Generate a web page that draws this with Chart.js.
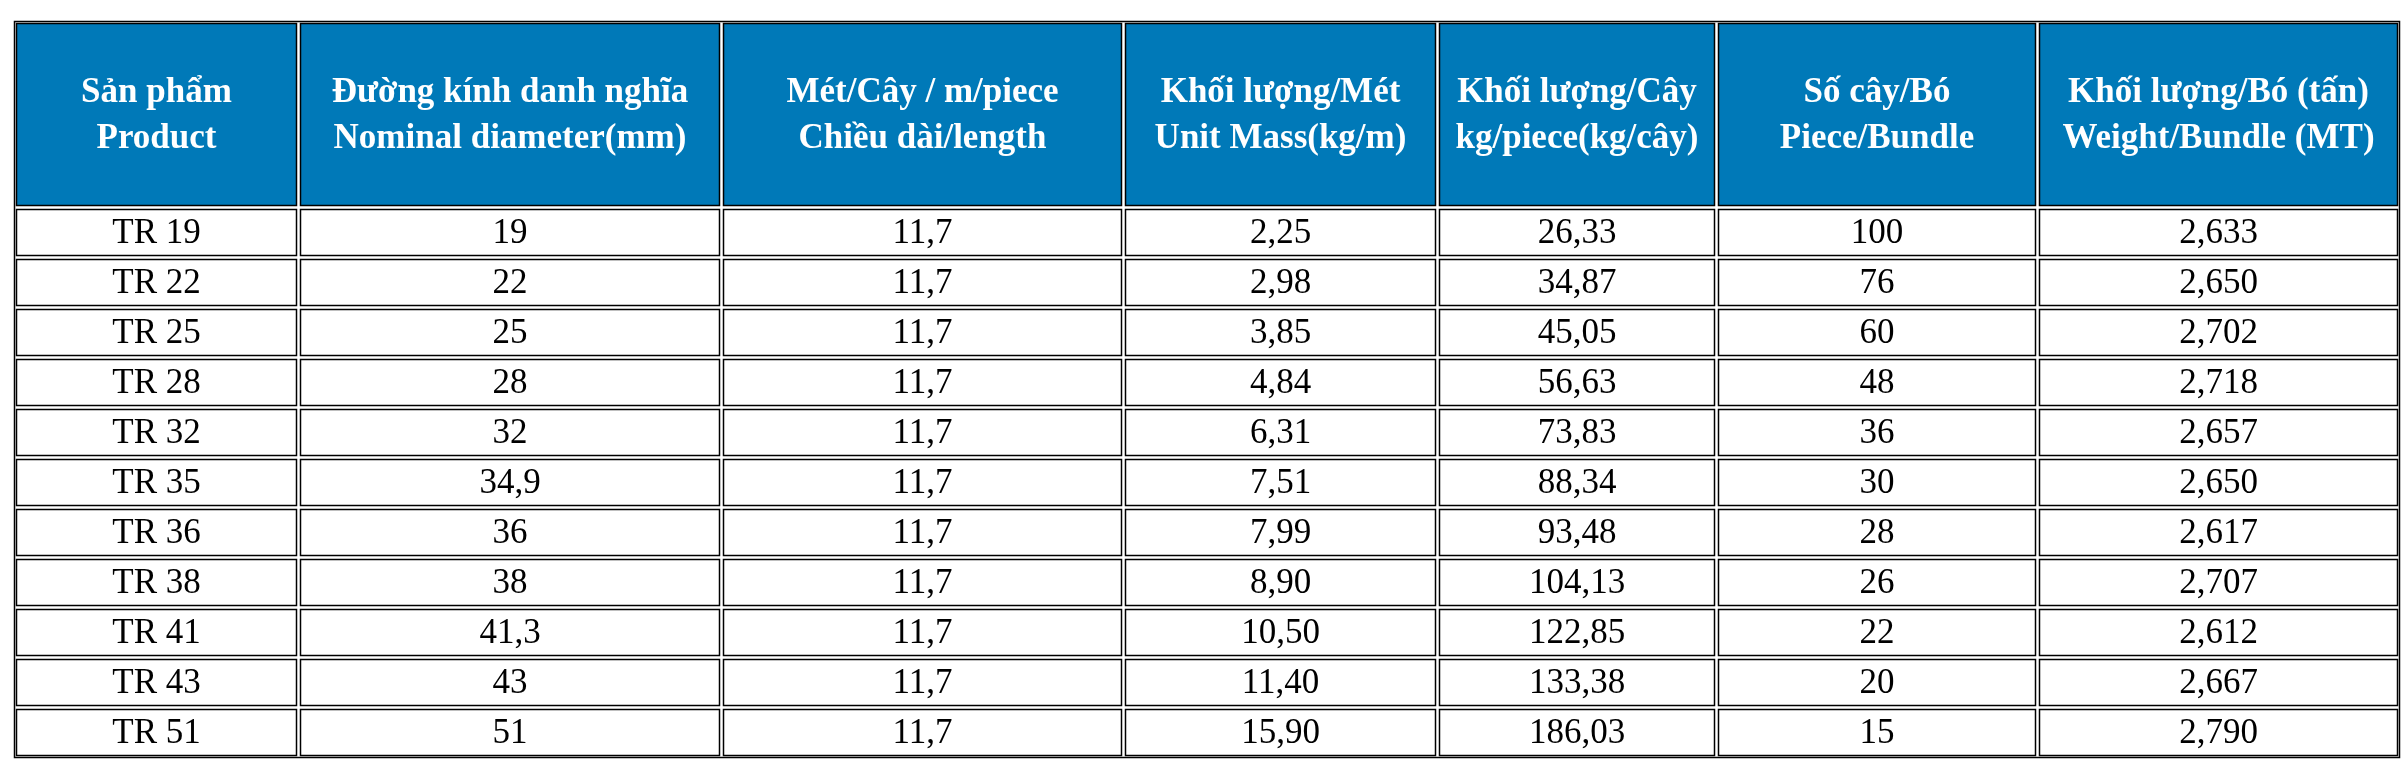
<!DOCTYPE html>
<html><head><meta charset="utf-8">
<script src="https://cdn.jsdelivr.net/npm/chart.js@4"></script>
<style>html,body{margin:0;padding:0;background:#fff}#w{width:2405px;height:762px}</style>
</head><body><div id="w"><canvas id="c"></canvas></div>
<script>
const headers = [
 ["Sản phẩm","Product"],
 ["Đường kính danh nghĩa","Nominal diameter(mm)"],
 ["Mét/Cây / m/piece","Chiều dài/length"],
 ["Khối lượng/Mét","Unit Mass(kg/m)"],
 ["Khối lượng/Cây","kg/piece(kg/cây)"],
 ["Số cây/Bó","Piece/Bundle"],
 ["Khối lượng/Bó (tấn)","Weight/Bundle (MT)"]
];
const products = ["TR 19","TR 22","TR 25","TR 28","TR 32","TR 35","TR 36","TR 38","TR 41","TR 43","TR 51"];
const diameters = ["19","22","25","28","32","34,9","36","38","41,3","43","51"];
const lengths = ["11,7","11,7","11,7","11,7","11,7","11,7","11,7","11,7","11,7","11,7","11,7"];
const unitMass = ["2,25","2,98","3,85","4,84","6,31","7,51","7,99","8,90","10,50","11,40","15,90"];
const pieceMass = ["26,33","34,87","45,05","56,63","73,83","88,34","93,48","104,13","122,85","133,38","186,03"];
const piecesPerBundle = ["100","76","60","48","36","30","28","26","22","20","15"];
const bundleWeight = ["2,633","2,650","2,702","2,718","2,657","2,650","2,617","2,707","2,612","2,667","2,790"];
const columns = [products, diameters, lengths, unitMass, pieceMass, piecesPerBundle, bundleWeight];

const colEdges = [14,298,721,1123,1437,1716,2037,2399];
const headerTop = 21, headerBottom = 207, rowH = 50;

const tablePlugin = {
  id:'table',
  afterDraw(chart){
    const ctx = chart.ctx, xs = chart.scales.x, ys = chart.scales.y;
    const X = v=>xs.getPixelForValue(v), Y = v=>ys.getPixelForValue(v);
    const nRows = products.length;
    const bottom = headerBottom + nRows*rowH;
    ctx.save();
    ctx.strokeStyle='#000'; ctx.lineWidth=1.5;
    ctx.strokeRect(X(colEdges[0])+0.5, Y(headerTop)+0.5, X(colEdges[7])-X(colEdges[0]), Y(bottom)-Y(headerTop));
    const drawText=(txt,cx,cy,bold,color)=>{
      ctx.font=(bold?'bold ':'')+'35px "Liberation Serif", "Times New Roman", serif';
      ctx.fillStyle=color; ctx.textAlign='center'; ctx.textBaseline='middle';
      ctx.fillText(txt,cx,cy);
    };
    for(let c=0;c<7;c++){
      const x0=X(colEdges[c])+2, x1=X(colEdges[c+1])-1;
      let y0=Y(headerTop)+2, y1=Y(headerBottom)-1;
      ctx.fillStyle='#0079B8'; ctx.fillRect(x0,y0,x1-x0,y1-y0);
      ctx.strokeRect(x0+0.5,y0+0.5,x1-x0-1,y1-y0-1);
      const cx=(x0+x1)/2, cy=(y0+y1)/2;
      drawText(headers[c][0],cx,cy-22,true,'#fff');
      drawText(headers[c][1],cx,cy+24,true,'#fff');
      for(let r=0;r<nRows;r++){
        const a=Y(headerBottom+r*rowH)+2, b=Y(headerBottom+(r+1)*rowH)-1;
        ctx.strokeRect(x0+0.5,a+0.5,x1-x0-1,b-a-1);
        drawText(columns[c][r],cx,(a+b)/2+1,false,'#000');
      }
    }
    ctx.restore();
  }
};

new Chart(document.getElementById('c'),{
  type:'scatter',
  data:{datasets:[{data:[]}]},
  options:{
    responsive:true, maintainAspectRatio:false, animation:false, devicePixelRatio:1,
    layout:{padding:0},
    plugins:{legend:{display:false},tooltip:{enabled:false}},
    scales:{
      x:{type:'linear',min:0,max:2405,display:false},
      y:{type:'linear',min:0,max:762,reverse:true,display:false}
    }
  },
  plugins:[tablePlugin]
});
</script></body></html>
